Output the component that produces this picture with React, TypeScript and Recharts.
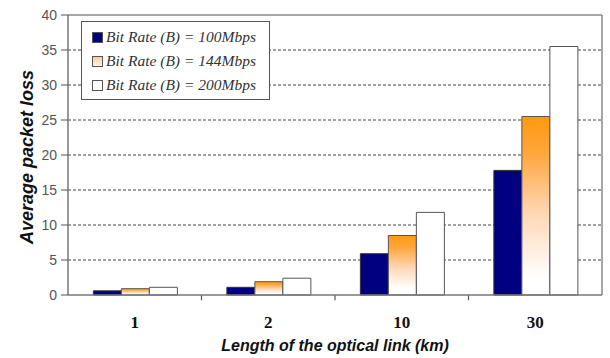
import React from 'react';
import { BarChart, Bar, XAxis, YAxis, CartesianGrid, Legend, ReferenceLine } from 'recharts';

const categories = ['1', '2', '10', '30'];
const rate100 = [0.6, 1.1, 5.9, 17.8];
const rate144 = [0.9, 1.9, 8.5, 25.5];
const rate200 = [1.1, 2.4, 11.8, 35.5];
const yTicks = [0, 5, 10, 15, 20, 25, 30, 35, 40];
const boundaryTicks = [1, 2, 3];
const seriesNames = ['Bit Rate (B) = 100Mbps', 'Bit Rate (B) = 144Mbps', 'Bit Rate (B) = 200Mbps'];

const data = categories.map((c, i) => ({
  cat: c,
  idx: i + 0.5,
  r100: rate100[i],
  r144: rate144[i],
  r200: rate200[i],
}));

const LegendBox = () => {
  const swatches = [
    { fill: '#000080' },
    { fill: 'url(#legGrad)' },
    { fill: '#ffffff' },
  ];
  return (
    <div
      style={{
        width: 189,
        height: 79,
        border: '1px solid #555',
        background: '#fff',
        boxSizing: 'border-box',
        paddingTop: 3,
      }}
    >
      {seriesNames.map((n, i) => (
        <div key={n} style={{ display: 'flex', alignItems: 'center', height: 24, paddingLeft: 10 }}>
          <svg width={11} height={11} style={{ marginRight: 3 }}>
            <defs>
              <linearGradient id="legGrad" x1="0" y1="0" x2="0" y2="1">
                <stop offset="0" stopColor="#f6c9a6" />
                <stop offset="1" stopColor="#fff3ea" />
              </linearGradient>
            </defs>
            <rect x={0.5} y={0.5} width={10} height={10} fill={swatches[i].fill} stroke="#555" />
          </svg>
          <span
            style={{
              fontFamily: '"Liberation Serif", "Times New Roman", serif',
              fontStyle: 'italic',
              fontSize: 15.5,
              color: '#333',
              whiteSpace: 'nowrap',
            }}
          >
            {n}
          </span>
        </div>
      ))}
    </div>
  );
};

const YLabel = () => {
  const cy = 157;
  return (
    <text
      x={27}
      y={cy}
      transform={`rotate(-90, 27, ${cy})`}
      textAnchor="middle"
      dominantBaseline="central"
      style={{
        fontFamily: '"Liberation Sans", Arial, sans-serif',
        fontStyle: 'italic',
        fontWeight: 'bold',
        fontSize: 18,
        fill: '#111',
      }}
    >
      Average packet loss
    </text>
  );
};

const XLabel = (props: any) => {
  const { viewBox } = props;
  const cx = viewBox.x + viewBox.width / 2;
  return (
    <text
      x={cx}
      y={345}
      textAnchor="middle"
      dominantBaseline="central"
      style={{
        fontFamily: '"Liberation Sans", Arial, sans-serif',
        fontStyle: 'italic',
        fontWeight: 'bold',
        fontSize: 16,
        fill: '#111',
      }}
    >
      Length of the optical link (km)
    </text>
  );
};

export default function App() {
  return (
    <div style={{ position: 'absolute', left: 0, top: 0, width: 610, height: 358, background: '#fff' }}>
      <BarChart
        width={610}
        height={358}
        data={data}
        margin={{ top: 15, right: 8, left: 0, bottom: 0 }}
        barCategoryGap="19%"
        barGap={0}
      >
        <defs>
          <linearGradient id="orangeGrad" x1="0" y1="0" x2="0" y2="1">
            <stop offset="0" stopColor="#ff9a10" />
            <stop offset="0.2" stopColor="#ffa53a" />
            <stop offset="0.55" stopColor="#ffd8b8" />
            <stop offset="0.9" stopColor="#ffffff" />
            <stop offset="1" stopColor="#ffffff" />
          </linearGradient>
        </defs>
        <CartesianGrid
          vertical={false}
          stroke="#444"
          strokeDasharray="3 2"
          horizontalValues={[5, 10, 15, 20, 25, 30, 35]}
        />
        <XAxis
          dataKey="cat"
          height={63}
          tickLine={false}
          axisLine={{ stroke: '#777', strokeWidth: 1.5 }}
          tickMargin={15}
          tick={{
            fontFamily: '"Liberation Serif", "Times New Roman", serif',
            fontWeight: 'bold',
            fontSize: 17,
            fill: '#111',
          }}
          label={<XLabel />}
        />
        <XAxis xAxisId="ticks" type="number" dataKey="idx" domain={[0, 4]} hide />
        <YAxis
          width={68}
          domain={[0, 40]}
          ticks={yTicks}
          interval={0}
          tickSize={7}
          tickMargin={4}
          tickLine={{ stroke: '#555' }}
          axisLine={{ stroke: '#777', strokeWidth: 1.5 }}
          tick={{
            fontFamily: '"Liberation Sans", Arial, sans-serif',
            fontSize: 14,
            fill: '#555',
          }}
          label={<YLabel />}
        />
        <ReferenceLine y={40} stroke="#888" strokeWidth={1.5} />
        <ReferenceLine x={4} xAxisId="ticks" stroke="#888" strokeWidth={1.5} />
        {boundaryTicks.map((b) => (
          <ReferenceLine
            key={b}
            xAxisId="ticks"
            segment={[{ x: b, y: 0 }, { x: b, y: -0.75 }]}
            ifOverflow="visible"
            stroke="#555"
            strokeWidth={1.2}
          />
        ))}
        <Legend
          layout="vertical"
          align="center"
          verticalAlign="middle"
          wrapperStyle={{ position: 'absolute', left: 81, top: 21, width: 189, height: 79 }}
          content={() => <LegendBox />}
        />
        <Bar dataKey="r100" name={seriesNames[0]} fill="#000080" stroke="#333" strokeWidth={1} isAnimationActive={false} />
        <Bar dataKey="r144" name={seriesNames[1]} fill="url(#orangeGrad)" stroke="#555" strokeWidth={1} isAnimationActive={false} />
        <Bar dataKey="r200" name={seriesNames[2]} fill="#ffffff" stroke="#555" strokeWidth={1} isAnimationActive={false} />
      </BarChart>
    </div>
  );
}
